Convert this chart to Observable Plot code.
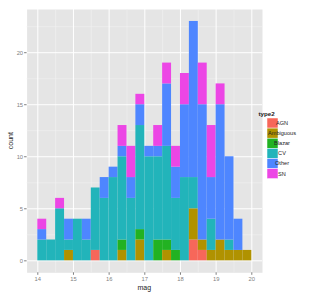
<!DOCTYPE html>
<html>
<head>
<meta charset="utf-8">
<script src="https://cdn.jsdelivr.net/npm/d3@7"></script>
<script src="https://cdn.jsdelivr.net/npm/@observablehq/plot@0.6"></script>
<style>
  html, body { margin: 0; padding: 0; background: #fff; }
  #chart svg { display: block; font-family: "Liberation Sans", Arial, sans-serif; }
</style>
</head>
<body>
<div id="chart"></div>
<script>
// Bin start values (binwidth 0.25)
const binStarts = [14, 14.25, 14.5, 14.75, 15, 15.25, 15.5, 15.75, 16, 16.25, 16.5, 16.75,
                   17, 17.25, 17.5, 17.75, 18, 18.25, 18.5, 18.75, 19, 19.25, 19.5, 19.75];
const binWidth = 0.25;

const types = ["AGN", "Ambiguous", "Blazar", "CV", "Other", "SN"];
const typeColors = ["#F7675A", "#B09200", "#22B222", "#22B4BA", "#4E86FF", "#EC46E5"];

// counts per bin for each type
const AGN       = [0,0,0,0,0,0,1,0,0,0,0,0, 0,0,0,0,0,2,1,0,0,0,0,0];
const Ambiguous = [0,0,0,1,0,0,0,0,0,1,0,2, 0,0,1,0,0,3,1,1,2,1,1,1];
const Blazar    = [0,0,0,0,0,0,0,0,0,1,0,1, 0,2,1,1,0,0,0,0,0,0,0,0];
const CV        = [2,2,5,1,4,2,6,6,8,8,6,10,10,8,9,5,8,3,0,3,0,1,0,0];
const Other     = [1,0,0,2,0,2,0,2,1,1,2,2, 1,1,6,3,7,15,13,4,13,8,3,0];
const SN        = [1,0,1,0,0,0,0,0,0,2,3,1, 0,2,2,2,3,0,4,5,2,0,0,0];

const xTicks = [14, 15, 16, 17, 18, 19, 20];
const xMinor = [14.5, 15.5, 16.5, 17.5, 18.5, 19.5];
const yTicks = [0, 5, 10, 15, 20];
const yMinor = [2.5, 7.5, 12.5, 17.5, 22.5];

const series = {AGN, Ambiguous, Blazar, CV, Other, SN};
const rows = [];
binStarts.forEach((b, i) => {
  types.forEach(t => {
    rows.push({x1: b, x2: b + binWidth, type: t, count: series[t][i]});
  });
});

const W = 327, H = 294;
const mL = 26.6, mR = 65, mT = 9, mB = 21.7;
const tickColor = "#7F7F7F";

const chart = Plot.plot({
  width: W,
  height: H,
  marginLeft: mL,
  marginRight: mR,
  marginTop: mT,
  marginBottom: mB,
  style: {background: "white", fontFamily: "Liberation Sans, Arial, sans-serif"},
  x: {domain: [13.7, 20.3], label: null},
  y: {domain: [-1.15, 24.15], label: null},
  color: {domain: types, range: typeColors},
  marks: [
    Plot.frame({fill: "#E5E5E5", stroke: null}),
    Plot.gridX(xMinor, {stroke: "#F2F2F2", strokeOpacity: 1, strokeWidth: 0.6}),
    Plot.gridY(yMinor, {stroke: "#F2F2F2", strokeOpacity: 1, strokeWidth: 0.6}),
    Plot.gridX(xTicks, {stroke: "white", strokeOpacity: 1, strokeWidth: 1}),
    Plot.gridY(yTicks, {stroke: "white", strokeOpacity: 1, strokeWidth: 1}),
    Plot.rectY(rows, Plot.stackY({
      x1: "x1", x2: "x2", y: "count", fill: "type", inset: 0, order: types
    })),
    Plot.axisX(xTicks, {tickSize: 2.5, tickPadding: 1.5, stroke: tickColor, fill: tickColor, fontSize: 5.8, label: null}),
    Plot.axisY(yTicks, {tickSize: 2.5, tickPadding: 1.5, stroke: tickColor, fill: tickColor, fontSize: 5.8, label: null})
  ]
});

document.getElementById("chart").appendChild(chart);

const svg = d3.select(chart);
const px1 = mL, px2 = W - mR, py1 = mT, py2 = H - mB;

// axis titles
svg.append("text")
  .attr("x", (px1 + px2) / 2).attr("y", 290)
  .attr("text-anchor", "middle")
  .attr("font-size", 7).attr("fill", "#222")
  .text("mag");
svg.append("text")
  .attr("transform", `translate(12.5, ${(py1 + py2) / 2}) rotate(-90)`)
  .attr("text-anchor", "middle")
  .attr("font-size", 7).attr("fill", "#222")
  .text("count");

// legend
const lg = svg.append("g");
lg.append("text")
  .attr("x", 266.5).attr("y", 116)
  .attr("font-size", 6.2).attr("font-weight", "bold").attr("fill", "#222")
  .text("type2");
types.forEach((t, i) => {
  const y0 = 118 + i * 10.1;
  lg.append("rect")
    .attr("x", 267).attr("y", y0).attr("width", 11).attr("height", 10.1)
    .attr("fill", typeColors[i]).attr("stroke", "white").attr("stroke-width", 0.5);
  lg.append("text")
    .attr("x", 282).attr("y", y0 + 5.05).attr("dy", "0.35em")
    .attr("font-size", 5.6).attr("fill", "#222")
    .text(t);
});
</script>
</body>
</html>
